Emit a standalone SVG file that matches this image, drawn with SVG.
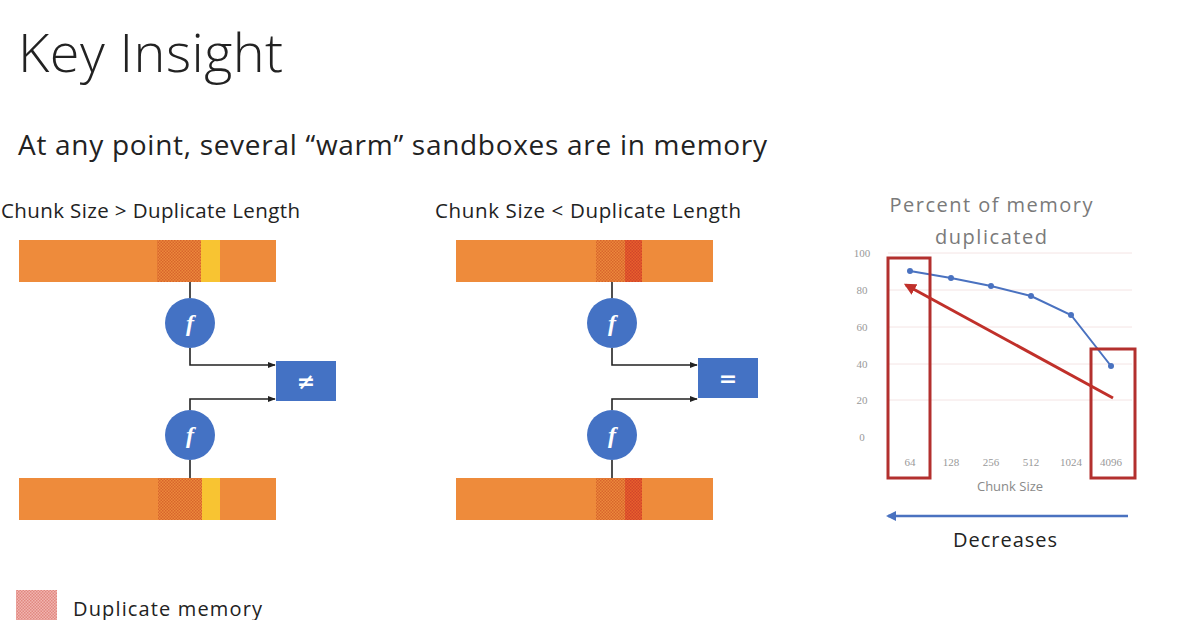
<svg xmlns="http://www.w3.org/2000/svg" width="1192" height="620" viewBox="0 0 1192 620">
<defs>
<pattern id="dup" width="3" height="3" patternUnits="userSpaceOnUse">
<rect width="3" height="3" fill="#EC8A3C"/>
<rect width="1.5" height="1.5" fill="#D8642C"/>
<rect x="1.5" y="1.5" width="1.5" height="1.5" fill="#D8642C"/>
</pattern>
<pattern id="dupred" width="3" height="3" patternUnits="userSpaceOnUse">
<rect width="3" height="3" fill="#E8602C"/>
<rect width="1.5" height="1.5" fill="#D2452A"/>
<rect x="1.5" y="1.5" width="1.5" height="1.5" fill="#D2452A"/>
</pattern>
<pattern id="legend" width="3" height="3" patternUnits="userSpaceOnUse">
<rect width="3" height="3" fill="#F2B5B0"/>
<rect width="1.5" height="1.5" fill="#E08880"/>
<rect x="1.5" y="1.5" width="1.5" height="1.5" fill="#E08880"/>
</pattern>
<marker id="ah" viewBox="0 0 10 10" refX="9" refY="5" markerWidth="5" markerHeight="5" orient="auto">
<path d="M0,1 L10,5 L0,9 z" fill="#222"/>
</marker>
<marker id="ahred" viewBox="0 0 10 10" refX="8" refY="5" markerWidth="4" markerHeight="4" orient="auto">
<path d="M0,0 L10,5 L0,10 z" fill="#C0302A"/>
</marker>
<marker id="ahblue" viewBox="0 0 10 10" refX="8" refY="5" markerWidth="4" markerHeight="4" orient="auto">
<path d="M0,0 L10,5 L0,10 z" fill="#4A72C0"/>
</marker>
</defs>
<style>
.t{font-family:"Open Sans","Noto Sans",sans-serif;fill:#222}
.g{fill:#7a7a7a}
.bar{fill:#EE8B3B}
.fn{fill:#4472C4}
.ftxt{font-family:"Liberation Serif",serif;font-style:italic;font-weight:bold;font-size:24px;fill:#fff;text-anchor:middle}
.op{font-family:"DejaVu Sans",sans-serif;font-weight:bold;font-size:22px;fill:#fff;text-anchor:middle}
.conn{fill:none;stroke:#222;stroke-width:1.6}
.ax{font-family:"Liberation Serif",serif;font-size:11px;fill:#999}
.grid{stroke:#f4e4e4;stroke-width:1}
.rbox{fill:none;stroke:#B3302E;stroke-width:3}
</style>
<rect width="1192" height="620" fill="#fff"/>
<text class="t" x="18" y="72" font-size="54" font-weight="300" textLength="265">Key Insight</text>
<text class="t" x="18" y="155" font-size="28" textLength="749">At any point, several “warm” sandboxes are in memory</text>
<text class="t" x="1" y="218" font-size="20.5" textLength="299">Chunk Size &gt; Duplicate Length</text>
<text class="t" x="435" y="218" font-size="20.5" textLength="306">Chunk Size &lt; Duplicate Length</text>

<g id="left-top-bar">
<rect class="bar" x="19" y="240" width="257" height="42"/>
<rect x="157" y="240" width="44" height="42" fill="url(#dup)"/>
<rect x="201" y="240" width="19" height="42" fill="#F8C432"/>
</g>
<g id="left-bottom-bar">
<rect class="bar" x="19" y="478" width="257" height="42"/>
<rect x="158" y="478" width="44" height="42" fill="url(#dup)"/>
<rect x="202" y="478" width="18" height="42" fill="#F8C432"/>
</g>
<g id="left-f-top"><circle class="fn" cx="190" cy="323" r="25"/><text class="ftxt" x="190" y="331">f</text></g>
<g id="left-f-bottom"><circle class="fn" cx="190" cy="435" r="25"/><text class="ftxt" x="190" y="443">f</text></g>
<g id="left-neq"><rect class="fn" x="276" y="361" width="60" height="40"/><text class="op" x="306" y="389">≠</text></g>

<g id="mid-top-bar">
<rect class="bar" x="456" y="240" width="257" height="42"/>
<rect x="596" y="240" width="29" height="42" fill="url(#dup)"/>
<rect x="625" y="240" width="17" height="42" fill="url(#dupred)"/>
</g>
<g id="mid-bottom-bar">
<rect class="bar" x="456" y="478" width="257" height="42"/>
<rect x="596" y="478" width="29" height="42" fill="url(#dup)"/>
<rect x="625" y="478" width="17" height="42" fill="url(#dupred)"/>
</g>
<g id="mid-f-top"><circle class="fn" cx="612" cy="323" r="25"/><text class="ftxt" x="612" y="331">f</text></g>
<g id="mid-f-bottom"><circle class="fn" cx="612" cy="435" r="25"/><text class="ftxt" x="612" y="443">f</text></g>
<g id="mid-eq"><rect class="fn" x="698" y="358" width="60" height="40"/><text class="op" x="728" y="386">=</text></g>

<g id="connectors">
<line class="conn" x1="190" y1="282" x2="190" y2="298"/>
<polyline class="conn" points="190,348 190,365 275,365" marker-end="url(#ah)"/>
<polyline class="conn" points="190,410 190,399 275,399" marker-end="url(#ah)"/>
<line class="conn" x1="190" y1="460" x2="190" y2="478"/>
<line class="conn" x1="612" y1="282" x2="612" y2="298"/>
<polyline class="conn" points="612,348 612,365 697,365" marker-end="url(#ah)"/>
<polyline class="conn" points="612,410 612,399 697,399" marker-end="url(#ah)"/>
<line class="conn" x1="612" y1="460" x2="612" y2="478"/>
</g>

<g id="chart">
<text class="t g" x="991" y="212" font-size="20" text-anchor="middle" textLength="203">Percent of memory</text>
<text class="t g" x="991" y="244" font-size="20" text-anchor="middle" textLength="112">duplicated</text>
<line class="grid" x1="888" y1="253" x2="1132" y2="253"/>
<line class="grid" x1="888" y1="290" x2="1132" y2="290"/>
<line class="grid" x1="888" y1="327" x2="1132" y2="327"/>
<line class="grid" x1="888" y1="364" x2="1132" y2="364"/>
<line class="grid" x1="888" y1="400" x2="1132" y2="400"/>
<text class="ax" x="862" y="257" text-anchor="middle">100</text>
<text class="ax" x="862" y="294" text-anchor="middle">80</text>
<text class="ax" x="862" y="331" text-anchor="middle">60</text>
<text class="ax" x="862" y="368" text-anchor="middle">40</text>
<text class="ax" x="862" y="404" text-anchor="middle">20</text>
<text class="ax" x="862" y="441" text-anchor="middle">0</text>
<text class="ax" x="910" y="466" text-anchor="middle">64</text>
<text class="ax" x="951" y="466" text-anchor="middle">128</text>
<text class="ax" x="991" y="466" text-anchor="middle">256</text>
<text class="ax" x="1031" y="466" text-anchor="middle">512</text>
<text class="ax" x="1071" y="466" text-anchor="middle">1024</text>
<text class="ax" x="1111" y="466" text-anchor="middle">4096</text>
<text class="t" x="1010" y="491" font-size="13" style="fill:#8a8a8a" text-anchor="middle">Chunk Size</text>
<polyline points="910,271 951,278 991,286 1031,296 1071,315 1111,366" fill="none" stroke="#4A72C0" stroke-width="2"/>
<g fill="#4A72C0">
<circle cx="910" cy="271" r="3"/><circle cx="951" cy="278" r="3"/><circle cx="991" cy="286" r="3"/>
<circle cx="1031" cy="296" r="3"/><circle cx="1071" cy="315" r="3"/><circle cx="1111" cy="366" r="3"/>
</g>
<rect class="rbox" x="888" y="258" width="42" height="220"/>
<rect class="rbox" x="1091" y="349" width="44" height="129"/>
<line x1="1113" y1="398" x2="906" y2="285" stroke="#C0302A" stroke-width="3" marker-end="url(#ahred)"/>
<line x1="1128" y1="516" x2="888" y2="516" stroke="#4A72C0" stroke-width="2.5" marker-end="url(#ahblue)"/>
<text class="t" x="1005" y="547" font-size="20" text-anchor="middle" textLength="104">Decreases</text>
</g>

<g id="legend">
<rect x="16" y="590" width="41" height="32" fill="url(#legend)"/>
<text class="t" x="73" y="616" font-size="20" textLength="189">Duplicate memory</text>
</g>
</svg>
